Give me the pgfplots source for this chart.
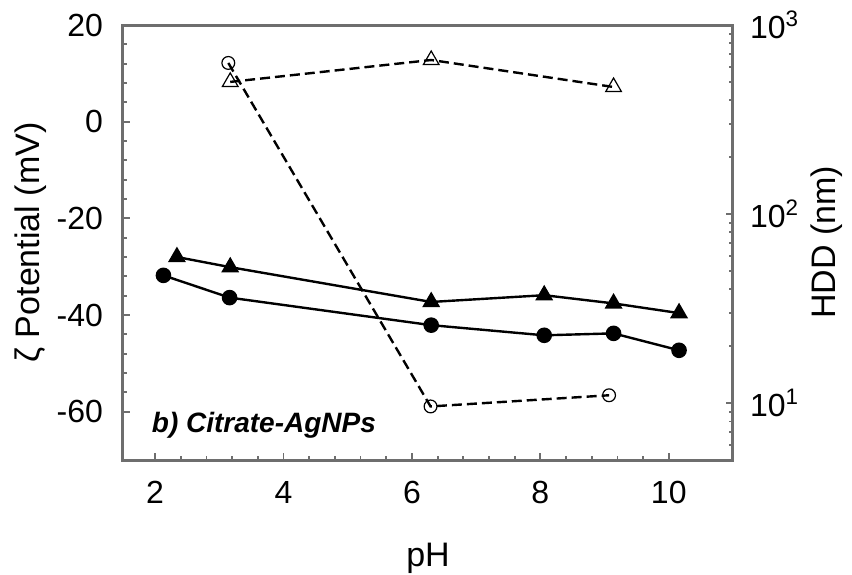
\documentclass[border=0pt]{standalone}
\usepackage{pgfplots}
\pgfplotsset{compat=1.18}
\usepackage{fontspec}
\setmainfont{Liberation Sans}
\definecolor{axgray}{RGB}{110,110,110}
\begin{document}
\begin{tikzpicture}
\path[use as bounding box] (-61.5pt,-57pt) rectangle (364.5pt,230pt);
\begin{axis}[
  at={(0,0)}, anchor=south west,
  scale only axis, width=305pt, height=217.5pt,
  xmin=1.5, xmax=11, ymin=-70, ymax=20,
  xtick={2,4,6,8,10}, ytick={-60,-40,-20,0,20},
  minor x tick num=4, minor y tick num=4,
  xtick pos=bottom, ytick pos=left, tick align=inside,
  major tick length=3.5pt, minor tick length=2pt,
  tick style={axgray, line width=0.9pt},
  axis line style={axgray, line width=1.5pt},
  tick label style={font=\fontsize{16}{19}\selectfont},
  /pgf/number format/assume math mode=true,
  yticklabel style={xshift=-6.5pt},
  xticklabel style={yshift=-7pt},
  xlabel={pH}, ylabel={ζ Potential (mV)},
  label style={font=\fontsize{17}{20}\selectfont},
  xlabel style={at={(axis description cs:0.5,0)}, anchor=north, yshift=-38pt},
  ylabel style={at={(axis description cs:0,0.5)}, anchor=center, yshift=46pt},
  clip=false,
]
\addplot[black, line width=1.2pt, mark=triangle*, mark size=4pt] coordinates {
(2.34,-28.0) (3.17,-30.1) (6.30,-37.3) (8.06,-35.9) (9.14,-37.6) (10.16,-39.6)};
\addplot[black, line width=1.2pt, mark=*, mark size=3.3pt] coordinates {
(2.13,-31.8) (3.16,-36.4) (6.30,-42.1) (8.06,-44.2) (9.14,-43.8) (10.16,-47.3)};
\node[anchor=west, font=\fontsize{14}{17}\selectfont\bfseries\itshape] at (axis cs:1.84,-62.8) {b) Citrate-AgNPs};
\end{axis}
\begin{axis}[
  at={(0,0)}, anchor=south west,
  scale only axis, width=305pt, height=217.5pt,
  xmin=1.5, xmax=11, ymode=log, ymin=5, ymax=1000,
  hide x axis, ytick pos=right, yticklabel pos=right,
  ytick={10,100,1000},
  yticklabels={10\textsuperscript{1},10\textsuperscript{2},10\textsuperscript{3}},
  minor ytick={6,7,8,9,20,30,40,50,60,70,80,90,200,300,400,500,600,700,800,900},
  tick align=inside,
  major tick length=3.5pt, minor tick length=2pt,
  tick style={axgray, line width=0.9pt},
  axis line style={axgray, line width=1.5pt},
  tick label style={font=\fontsize{16}{19}\selectfont},
  yticklabel style={xshift=5pt},
  ylabel={HDD (nm)},
  label style={font=\fontsize{17}{20}\selectfont},
  ylabel style={at={(axis description cs:1,0.5)}, anchor=center, yshift=-47pt},
  clip=false,
]
\addplot[black, line width=1.2pt, dash pattern=on 5pt off 2.5pt, mark=triangle, mark size=4.5pt, mark options={solid, fill=white, line width=0.6pt}] coordinates {
(3.17,500) (6.30,653) (9.14,470)};
\addplot[black, line width=1.2pt, dash pattern=on 5pt off 2.5pt, mark=o, mark size=3.2pt, mark options={solid, fill=white, line width=0.6pt}] coordinates {
(3.14,630) (6.29,9.6) (9.07,11.0)};
\end{axis}
\end{tikzpicture}
\end{document}
